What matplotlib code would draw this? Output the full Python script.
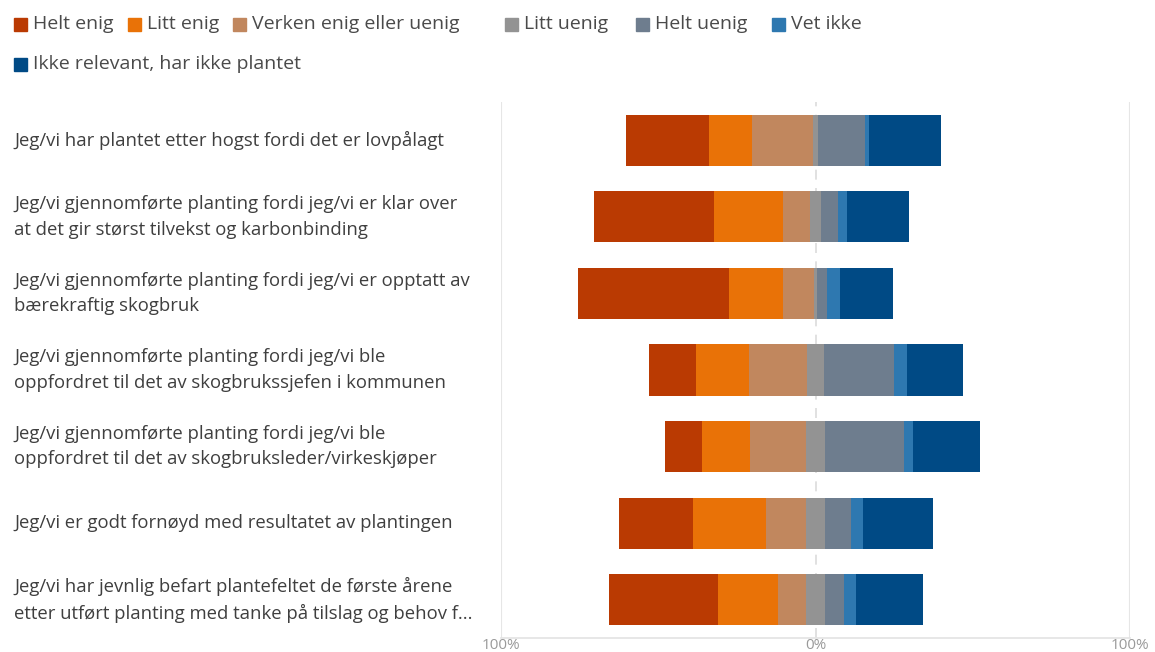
import matplotlib.pyplot as plt
import numpy as np
from matplotlib.patches import Rectangle
from matplotlib.transforms import blended_transform_factory

plt.rcParams['font.family'] = ['Open Sans', 'DejaVu Sans']

questions = [
    'Jeg/vi har plantet etter hogst fordi det er lovpålagt',
    'Jeg/vi gjennomførte planting fordi jeg/vi er klar over\nat det gir størst tilvekst og karbonbinding',
    'Jeg/vi gjennomførte planting fordi jeg/vi er opptatt av\nbærekraftig skogbruk',
    'Jeg/vi gjennomførte planting fordi jeg/vi ble\noppfordret til det av skogbrukssjefen i kommunen',
    'Jeg/vi gjennomførte planting fordi jeg/vi ble\noppfordret til det av skogbruksleder/virkeskjøper',
    'Jeg/vi er godt fornøyd med resultatet av plantingen',
    'Jeg/vi har jevnlig befart plantefeltet de første årene\netter utført planting med tanke på tilslag og behov f...',
]

categories = ['Helt enig', 'Litt enig', 'Verken enig eller uenig', 'Litt uenig',
              'Helt uenig', 'Vet ikke', 'Ikke relevant, har ikke plantet']
colors = ['#BA3A02', '#E97207', '#C1875E', '#939393', '#6E7D8E', '#2E78B0', '#004A85']

# percent per question, one list per answer category
helt_enig     = [26.3, 37.9, 48.0, 14.9, 11.9, 23.5, 34.5]
litt_enig     = [13.8, 22.2, 17.2, 16.9, 15.3, 23.4, 19.0]
verken        = [19.3,  8.6,  9.9, 18.6, 17.8, 12.7,  9.1]
litt_uenig    = [ 1.7,  3.2,  0.7,  5.3,  5.9,  5.9,  5.9]
helt_uenig    = [14.8,  5.5,  3.4, 22.3, 25.3,  8.2,  6.2]
vet_ikke      = [ 1.5,  3.0,  3.9,  4.3,  2.8,  3.9,  3.6]
ikke_relevant = [22.7, 19.6, 17.0, 17.8, 21.2, 22.3, 21.5]

series = np.array([helt_enig, litt_enig, verken, litt_uenig,
                   helt_uenig, vet_ikke, ikke_relevant])

fig = plt.figure(figsize=(11.55, 6.52), dpi=100)
W, H = 1155, 652
ax = fig.add_axes([501 / W, 1 - 638 / H, 629 / W, 536 / H])

y = np.arange(len(questions))
# middle category centred on zero
start = -(series[0] + series[1] + series[2] + series[3] / 2)
left = start.copy()
for vals, col in zip(series, colors):
    ax.barh(y, vals, left=left, height=0.667, color=col, linewidth=0)
    left = left + vals

ax.set_xlim(-100, 100)
ax.set_ylim(len(questions) - 0.5, -0.5)

for s in ['top', 'right', 'left']:
    ax.spines[s].set_visible(False)
ax.spines['bottom'].set_color('#e3e3e3')
ax.spines['bottom'].set_linewidth(1.2)
ax.axvline(-100, color='#e6e6e6', lw=1.5, zorder=0)
ax.axvline(100, color='#e6e6e6', lw=1.5, zorder=0)
ax.axvline(0, color='#dcdcdc', lw=1.2, ls=(0, (6, 5)), zorder=0)

ax.set_xticks([-100, 0, 100])
ax.set_xticklabels(['100%', '0%', '100%'])
ax.tick_params(axis='x', length=0, pad=0, labelsize=11, labelcolor='#9a9a9a')
ax.set_yticks([])

trans = blended_transform_factory(fig.transFigure, ax.transData)
for yi, q in zip(y, questions):
    ax.text(14 / W, yi, q, transform=trans, ha='left', va='center',
            fontsize=13.3, color='#3f3f3f', linespacing=1.55)

# legend, laid out like the original
leg_pos = [(14, 24), (128, 24), (233, 24), (505, 24), (636, 24), (772, 24), (14, 64)]
for (lx, ly), cat, col in zip(leg_pos, categories, colors):
    fig.patches.append(Rectangle((lx / W, 1 - (ly + 6.5) / H), 13 / W, 13 / H,
                                 transform=fig.transFigure, color=col))
    fig.text((lx + 19) / W, 1 - ly / H, cat, ha='left', va='center',
             fontsize=14, color='#4a4a4a')

fig.savefig('out.png', dpi=100)
